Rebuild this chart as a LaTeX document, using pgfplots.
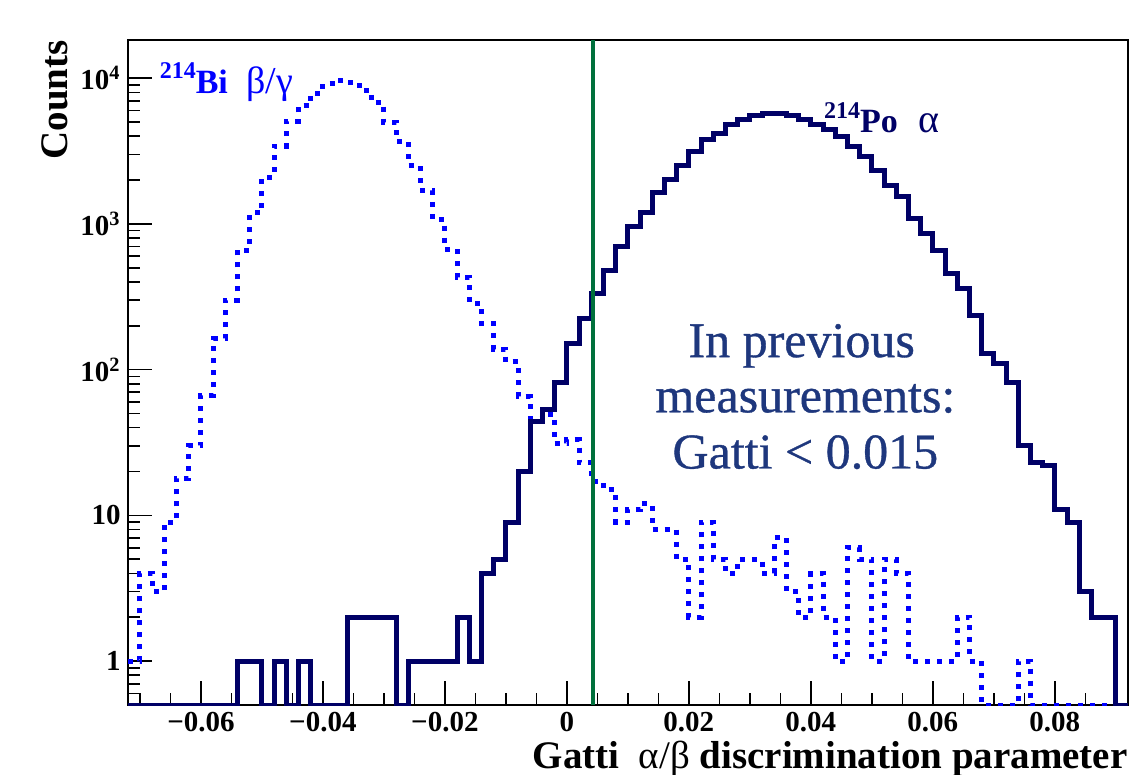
\documentclass[border=0pt]{standalone}
\usepackage{fontspec}
\setmainfont{Liberation Serif}
\newfontfamily\notefont{Liberation Serif}[FakeBold=0.7]
\usepackage{pgfplots}
\usepackage{pgfplotstable}
\pgfplotsset{compat=1.18}

\definecolor{bicol}{RGB}{0,0,255}
\definecolor{pocol}{RGB}{0,0,102}
\definecolor{cutcol}{RGB}{0,112,60}
\definecolor{notecol}{RGB}{30,55,125}

% left bin edge, counts (0.5 = empty bin, drawn on the frame)
\pgfplotstableread{
x y
-0.072 1
-0.070 4
-0.068 3
-0.066 9
-0.064 18
-0.062 30
-0.060 67
-0.058 163
-0.056 300
-0.054 660
-0.052 1190
-0.050 2090
-0.048 3420
-0.046 5080
-0.044 6500
-0.042 7900
-0.040 9200
-0.038 9700
-0.036 9400
-0.034 8300
-0.032 6800
-0.030 5000
-0.028 3700
-0.026 2500
-0.024 1710
-0.022 1076
-0.020 673
-0.018 430
-0.016 285
-0.014 207
-0.012 138
-0.010 113
-0.008 65
-0.006 46
-0.004 49
-0.002 31
0.000 33
0.002 23
0.004 17
0.006 15
0.008 9
0.010 11
0.012 12
0.014 8
0.016 8
0.018 5
0.020 2
0.022 9
0.024 5
0.026 4
0.028 5
0.030 5
0.032 4
0.034 7
0.036 3
0.038 2
0.040 4
0.042 2
0.044 1
0.046 6
0.048 5
0.050 1
0.052 5
0.054 4
0.056 1
0.058 1
0.060 1
0.062 1
0.064 2
0.066 1
0.068 0.5
0.070 0.5
0.072 0.5
0.074 1
0.076 0.5
0.078 0.5
0.080 0.5
0.082 0.5
0.084 0.5
0.086 0.5
0.088 0.5
0.090 0.5
0.092 0.5
}\bidata

\pgfplotstableread{
x y
-0.072 0.5
-0.070 0.5
-0.068 0.5
-0.066 0.5
-0.064 0.5
-0.062 0.5
-0.060 0.5
-0.058 0.5
-0.056 0.5
-0.054 1
-0.052 1
-0.050 0.5
-0.048 1
-0.046 0.5
-0.044 1
-0.042 0.5
-0.040 0.5
-0.038 0.5
-0.036 2
-0.034 2
-0.032 2
-0.030 2
-0.028 0.5
-0.026 1
-0.024 1
-0.022 1
-0.020 1
-0.018 2
-0.016 1
-0.014 4
-0.012 5
-0.010 9
-0.008 20
-0.006 44
-0.004 53
-0.002 82
0.000 151
0.002 225
0.004 334
0.006 482
0.008 697
0.010 957
0.012 1195
0.014 1638
0.016 2003
0.018 2500
0.020 3134
0.022 3770
0.024 4190
0.026 4776
0.028 5225
0.030 5510
0.032 5750
0.034 5750
0.036 5510
0.038 5225
0.040 4776
0.042 4415
0.044 3970
0.046 3390
0.048 2900
0.050 2345
0.052 1850
0.054 1538
0.056 1093
0.058 861
0.060 662
0.062 458
0.064 361
0.066 237
0.068 129
0.070 110
0.072 82
0.074 30
0.076 23
0.078 22
0.080 11
0.082 9
0.084 3
0.086 2
0.088 2
0.090 0.5
0.092 0.5
}\podata

\begin{document}
\begin{tikzpicture}
\begin{axis}[
    scale only axis,
    width=500.15pt,
    height=332.5pt,
    xmin=-0.072, xmax=0.092,
    ymode=log,
    ymin=0.5, ymax=18300,
    clip mode=individual,
    axis line style={line width=1pt},
    scaled x ticks=false,
    xtick={-0.06,-0.04,-0.02,0,0.02,0.04,0.06,0.08},
    xticklabels={−0.06,−0.04,−0.02,0,0.02,0.04,0.06,0.08},
    minor xtick={-0.07,-0.065,-0.055,-0.05,-0.045,-0.035,-0.03,-0.025,-0.015,-0.01,-0.005,0.005,0.01,0.015,0.025,0.03,0.035,0.045,0.05,0.055,0.065,0.07,0.075,0.085,0.09},
    ytick={1,10,100,1000,10000},
    yticklabels={1,10,10\textsuperscript{2},10\textsuperscript{3},10\textsuperscript{4}},
    minor ytick={0.6,0.7,0.8,0.9,2,3,4,5,6,7,8,9,20,30,40,50,60,70,80,90,200,300,400,500,600,700,800,900,2000,3000,4000,5000,6000,7000,8000,9000},
    xtick pos=lower, ytick pos=left,
    tick align=inside,
    major tick length=12pt, minor tick length=6pt,
    tick style={black, line width=0.8pt},
    ticklabel style={font=\fontsize{14.5}{16}\selectfont\bfseries},
    xlabel={Gatti~~{\mdseries α/β} discrimination parameter},
    ylabel={Counts},
    xlabel style={at={([yshift=-31.5pt]axis description cs:1,0)}, anchor=base east, inner sep=0pt,
        font=\fontsize{19.5}{22}\selectfont\bfseries},
    ylabel style={at={([xshift=-30pt]axis description cs:0,1)}, anchor=base east, inner sep=0pt,
        font=\fontsize{19.5}{22}\selectfont\bfseries},
]
\addplot[const plot mark left, bicol, line width=2.5pt, dash pattern=on 2.5pt off 3.5pt] table {\bidata};
\addplot[const plot mark left, pocol, line width=2.5pt] table {\podata};
\addplot[cutcol, line width=1.6pt] coordinates {(0.0043,0.5) (0.0043,18300)};

\node[anchor=base west, text=bicol, font=\fontsize{17}{17}\selectfont\bfseries, inner sep=0pt]
    at (axis cs:-0.0668,7900) {\raisebox{0.42em}{\fontsize{12}{12}\selectfont 214}Bi\hspace{0.55em}{\mdseries\fontsize{19}{19}\selectfont β/γ}};
\node[anchor=base west, text=pocol, font=\fontsize{17}{17}\selectfont\bfseries, inner sep=0pt]
    at (axis cs:0.0421,4210) {\raisebox{0.42em}{\fontsize{12}{12}\selectfont 214}Po\hspace{0.6em}{\mdseries\fontsize{20}{20}\selectfont α}};

\node[anchor=base, text=notecol, font=\notefont\fontsize{25}{25}\selectfont] at (axis cs:0.0385,122) {In previous};
\node[anchor=base, text=notecol, font=\notefont\fontsize{25}{25}\selectfont] at (axis cs:0.0391,51) {measurements:};
\node[anchor=base, text=notecol, font=\notefont\fontsize{25}{25}\selectfont] at (axis cs:0.0391,21) {Gatti < 0.015};

\coordinate (bl) at (rel axis cs:0,0);
\coordinate (tr) at (rel axis cs:1,1);
\end{axis}
\pgfresetboundingbox
\path[use as bounding box] ([shift={(-63.85pt,-34.5pt)}]bl) rectangle ([shift={(3pt,20pt)}]tr);
\end{tikzpicture}
\end{document}
